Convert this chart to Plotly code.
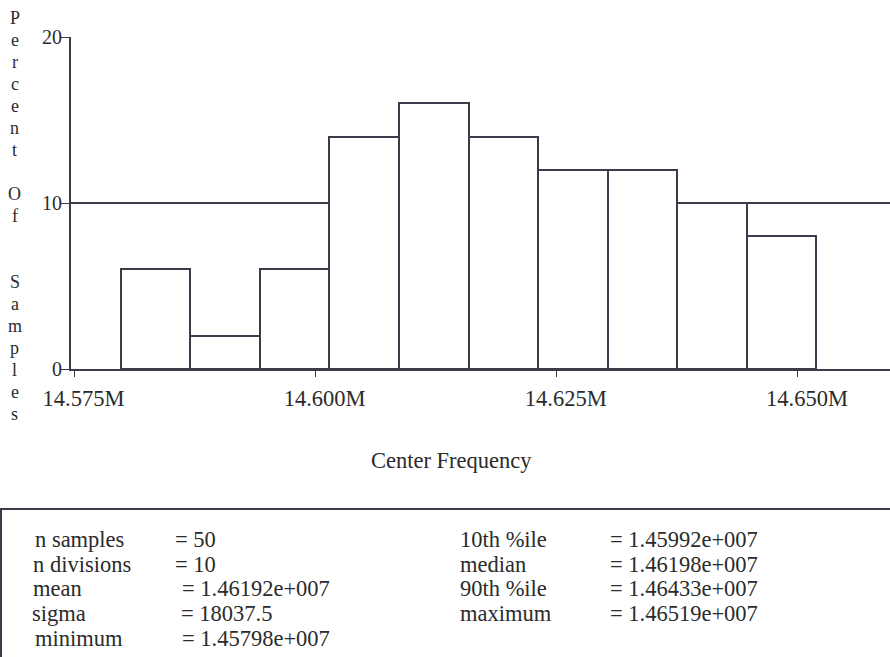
import numpy as np
import plotly.graph_objects as go

# Histogram of center frequency measurements (percent of samples per division)
percent_of_samples = [6, 2, 6, 14, 16, 14, 12, 12, 10, 8]
freq_min = 14579800.0
freq_max = 14651900.0
n_divisions = 10

x_tick_values = [14575000, 14600000, 14625000, 14650000]
x_tick_labels = ["14.575M", "14.600M", "14.625M", "14.650M"]
y_tick_values = [0, 10, 20]

stat_names_left = ["n samples", "n divisions", "mean", "sigma", "minimum"]
stat_values_left = ["= 50", "= 10", "= 1.46192e+007", "= 18037.5", "= 1.45798e+007"]
stat_names_right = ["10th %ile", "median", "90th %ile", "maximum"]
stat_values_right = ["= 1.45992e+007", "= 1.46198e+007", "= 1.46433e+007", "= 1.46519e+007"]

y_title = "Percent Of  Samples"

# Bin geometry derived from the sample range
edges = np.linspace(freq_min, freq_max, n_divisions + 1)
centers = (edges[:-1] + edges[1:]) / 2
width = edges[1] - edges[0]

INK = "#3b3b4a"
TEXT = "#2b2b2b"
FONT = "Liberation Serif, Times New Roman, serif"

W, H = 890, 657
L, R, T, B = 71, 0, 37, 288
plot_w = W - L - R
plot_h = H - T - B


def px(x):
    return (x - L) / plot_w


def py(y):
    return (H - B - y) / plot_h


fig = go.Figure(
    go.Bar(
        x=centers,
        y=percent_of_samples,
        width=[width] * n_divisions,
        marker=dict(color="white", line=dict(color=INK, width=2)),
        hoverinfo="skip",
    )
)

fig.update_xaxes(
    range=[14574640, 14659540],
    tickvals=x_tick_values,
    ticktext=x_tick_labels,
    ticks="outside",
    ticklen=6,
    tickwidth=1,
    tickcolor=INK,
    showline=True,
    linecolor=INK,
    linewidth=2,
    showgrid=False,
    zeroline=False,
    tickfont=dict(family=FONT, size=22.5, color=TEXT),
    ticklabelshift=9,
    ticklabelstandoff=2,
)
fig.update_yaxes(
    range=[0, 20],
    tickvals=y_tick_values,
    ticks="outside",
    ticklen=8,
    tickwidth=1,
    tickcolor=INK,
    showline=True,
    linecolor=INK,
    linewidth=2,
    showgrid=True,
    gridcolor=INK,
    gridwidth=2,
    zeroline=False,
    tickfont=dict(family=FONT, size=20, color=TEXT),
    ticklabelstandoff=-5,
)

annotations = []

# Axis title for the frequency axis
annotations.append(dict(
    text="Center Frequency", x=px(451), y=py(460), xref="paper", yref="paper",
    showarrow=False, xanchor="center", yanchor="middle",
    font=dict(family=FONT, size=22.5, color=TEXT),
))

# Vertical, letter-stacked y-axis title
for i, ch in enumerate(y_title):
    if ch == " ":
        continue
    annotations.append(dict(
        text=ch, x=px(15), y=py(18 + 22 * i), xref="paper", yref="paper",
        showarrow=False, xanchor="center", yanchor="middle",
        font=dict(family=FONT, size=18, color=TEXT),
    ))

# Summary statistics box
row_y = [539, 564, 588, 613, 638]
left_name_x = [33, 31, 31, 30, 33]
left_val_x = [173, 173, 180, 179, 180]
for i, (name, val) in enumerate(zip(stat_names_left, stat_values_left)):
    annotations.append(dict(
        text=name, x=px(left_name_x[i]), y=py(row_y[i]), xref="paper", yref="paper",
        showarrow=False, xanchor="left", yanchor="middle",
        font=dict(family=FONT, size=22.5, color=TEXT),
    ))
    annotations.append(dict(
        text=val, x=px(left_val_x[i]), y=py(row_y[i]), xref="paper", yref="paper",
        showarrow=False, xanchor="left", yanchor="middle",
        font=dict(family=FONT, size=22.5, color=TEXT),
    ))
for i, (name, val) in enumerate(zip(stat_names_right, stat_values_right)):
    annotations.append(dict(
        text=name, x=px(458), y=py(row_y[i]), xref="paper", yref="paper",
        showarrow=False, xanchor="left", yanchor="middle",
        font=dict(family=FONT, size=22.5, color=TEXT),
    ))
    annotations.append(dict(
        text=val, x=px(608), y=py(row_y[i]), xref="paper", yref="paper",
        showarrow=False, xanchor="left", yanchor="middle",
        font=dict(family=FONT, size=22.5, color=TEXT),
    ))

shapes = [dict(
    type="rect", xref="paper", yref="paper",
    x0=px(1), x1=px(W + 20), y0=py(509), y1=py(H + 20),
    line=dict(color=INK, width=2), fillcolor="rgba(0,0,0,0)",
)]

fig.update_layout(
    width=W, height=H,
    margin=dict(l=L, r=R, t=T, b=B, pad=0),
    paper_bgcolor="white",
    plot_bgcolor="white",
    showlegend=False,
    bargap=0,
    annotations=annotations,
    shapes=shapes,
)

fig.write_html("out.html")
